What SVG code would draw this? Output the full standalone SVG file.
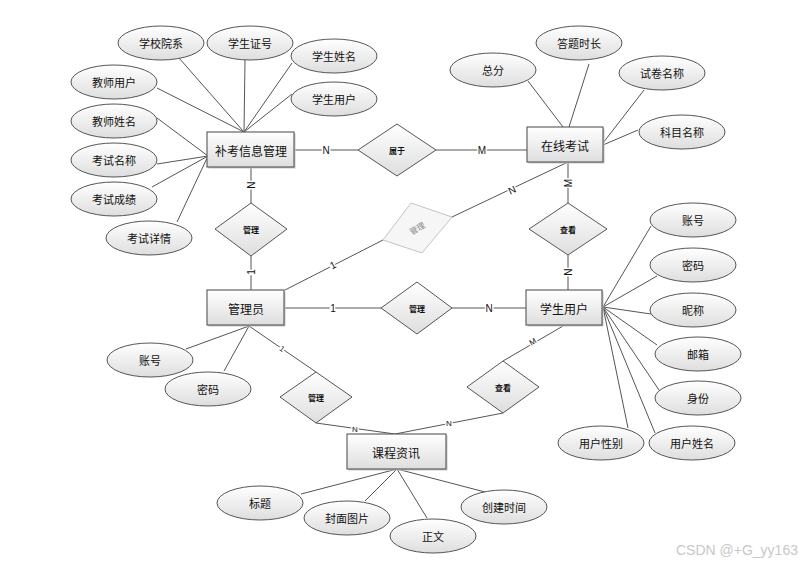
<svg xmlns="http://www.w3.org/2000/svg" width="810" height="566" viewBox="0 0 810 566">
<defs>
<linearGradient id="g" x1="0" y1="0" x2="0" y2="1">
<stop offset="0" stop-color="#ffffff"/>
<stop offset="1" stop-color="#dedede"/>
</linearGradient>
<style>
text{font-family:"Noto Sans CJK SC","Liberation Sans",sans-serif;text-anchor:middle;dominant-baseline:central;fill:#111}
.ent rect{fill:url(#g);stroke:#555;stroke-width:1.1}
.ent rect.shadow{fill:#c8c8c8;stroke:none}
.ent text{font-size:12px}
.att ellipse{fill:url(#g);stroke:#555;stroke-width:1}
.att text{font-size:11px}
.rel polygon{fill:url(#g);stroke:#555;stroke-width:1}
.rel text{font-size:8px;font-weight:bold}
#connectors line{stroke:#555;stroke-width:1}
.card{font-size:10px;font-family:"Liberation Sans",sans-serif;stroke:#fff;stroke-width:3;paint-order:stroke}
</style>
</defs>
<rect width="810" height="566" fill="#fff"/>

<g id="connectors">
<line x1="179" y1="58" x2="244" y2="132"/>
<line x1="245" y1="60" x2="244" y2="132"/>
<line x1="292" y1="63" x2="244" y2="132"/>
<line x1="292" y1="94" x2="244" y2="132"/>
<line x1="157" y1="88" x2="244" y2="132"/>
<line x1="157" y1="118" x2="208" y2="156"/>
<line x1="157" y1="164" x2="208" y2="156"/>
<line x1="152" y1="187" x2="208" y2="156"/>
<line x1="177" y1="222" x2="208" y2="156"/>
<line x1="528" y1="81" x2="563" y2="127"/>
<line x1="589" y1="64" x2="569" y2="127"/>
<line x1="644" y1="90" x2="603" y2="143"/>
<line x1="638" y1="130" x2="603" y2="145"/>
<line x1="186" y1="349" x2="249" y2="326"/>
<line x1="224" y1="371" x2="249" y2="326"/>
<line x1="651" y1="226" x2="603" y2="307"/>
<line x1="657" y1="276" x2="603" y2="307"/>
<line x1="651" y1="314" x2="603" y2="307"/>
<line x1="657" y1="345" x2="603" y2="307"/>
<line x1="659" y1="390" x2="603" y2="307"/>
<line x1="655" y1="433" x2="603" y2="307"/>
<line x1="628" y1="428" x2="603" y2="307"/>
<line x1="301" y1="494" x2="397" y2="469"/>
<line x1="365" y1="501" x2="397" y2="469"/>
<line x1="427" y1="518" x2="397" y2="469"/>
<line x1="485" y1="492" x2="397" y2="469"/>
<line x1="294" y1="150" x2="358" y2="150"/>
<line x1="436" y1="150" x2="527" y2="150"/>
<line x1="251" y1="167" x2="251" y2="203"/>
<line x1="251" y1="256" x2="251" y2="290"/>
<line x1="568" y1="162" x2="568" y2="203"/>
<line x1="568" y1="255" x2="568" y2="290"/>
<line x1="568" y1="162" x2="452" y2="217"/>
<line x1="383" y1="240" x2="285" y2="290"/>
<line x1="284" y1="308" x2="381" y2="308"/>
<line x1="452" y1="308" x2="526" y2="308"/>
<line x1="249" y1="326" x2="316" y2="372"/>
<line x1="316" y1="423" x2="395" y2="434"/>
<line x1="563" y1="326" x2="503" y2="361"/>
<line x1="503" y1="413" x2="395" y2="434"/>
<text class="card" x="326" y="150">N</text>
<text class="card" x="482" y="150">M</text>
<text class="card" x="251" y="185" transform="rotate(-90 251 185)">N</text>
<text class="card" x="251" y="272" transform="rotate(-90 251 272)">1</text>
<text class="card" x="568" y="183" transform="rotate(-90 568 183)">M</text>
<text class="card" x="568" y="272" transform="rotate(-90 568 272)">N</text>
<text class="card" x="512" y="190" transform="rotate(-25 512 190)">N</text>
<text class="card" x="333" y="265" transform="rotate(-27 333 265)">1</text>
<text class="card" x="333" y="308">1</text>
<text class="card" x="489" y="308">N</text>
<text class="card" x="282" y="349" transform="rotate(35 282 349)" style="font-size:8px">1</text>
<text class="card" x="355" y="429" style="font-size:8px">N</text>
<text class="card" x="533" y="342" transform="rotate(-30 533 342)" style="font-size:8px">M</text>
<text class="card" x="449" y="423" style="font-size:8px">N</text>
</g>

<g id="bukao" class="ent"><rect class="shadow" x="208.5" y="133.5" width="87" height="35"/><rect x="207" y="132" width="87" height="35"/><text x="251" y="150">补考信息管理</text></g>
<g id="zaixian" class="ent"><rect class="shadow" x="528.5" y="128.5" width="76" height="35"/><rect x="527" y="127" width="76" height="35"/><text x="565" y="145">在线考试</text></g>
<g id="guanliyuan" class="ent"><rect class="shadow" x="208.5" y="291.5" width="77" height="35"/><rect x="207" y="290" width="77" height="35"/><text x="246" y="308">管理员</text></g>
<g id="xuesheng" class="ent"><rect class="shadow" x="527.5" y="291.5" width="76" height="35"/><rect x="526" y="290" width="76" height="35"/><text x="564" y="308">学生用户</text></g>
<g id="kecheng" class="ent"><rect class="shadow" x="348.5" y="435.5" width="99" height="35"/><rect x="347" y="434" width="99" height="35"/><text x="396" y="452">课程资讯</text></g>

<g id="shuyu" class="rel"><polygon points="358,150 397,124 436,150 397,176"/><text x="397" y="150">属于</text></g>
<g id="guanli1" class="rel"><polygon points="215,229 251,203 287,229 251,256"/><text x="251" y="229">管理</text></g>
<g id="chakan1" class="rel"><polygon points="529,229 568,203 607,229 568,255"/><text x="568" y="229">查看</text></g>
<g id="guanli2" class="rel"><polygon points="381,308 417,282 452,308 417,334"/><text x="417" y="308">管理</text></g>
<g id="guanli3" class="rel"><polygon points="280,397 316,372 352,397 316,423"/><text x="316" y="397">管理</text></g>
<g id="chakan2" class="rel"><polygon points="467,387 503,361 539,387 503,413"/><text x="503" y="387">查看</text></g>
<g id="guanli4" class="rel"><polygon points="411,203 452,217 422,253 383,240" style="fill:#f6f6f6;stroke:#c4c4c4"/><text x="417" y="228" transform="rotate(-30 417 228)" style="fill:#888;font-weight:normal">管理</text></g>

<g id="a_xxyx" class="att"><ellipse cx="161" cy="43" rx="43" ry="17"/><text x="161" y="43">学校院系</text></g>
<g id="a_xszh" class="att"><ellipse cx="250" cy="43" rx="43" ry="17"/><text x="250" y="43">学生证号</text></g>
<g id="a_xsxm" class="att"><ellipse cx="334" cy="56" rx="43" ry="17"/><text x="334" y="56">学生姓名</text></g>
<g id="a_xsyh" class="att"><ellipse cx="334" cy="99" rx="43" ry="17"/><text x="334" y="99">学生用户</text></g>
<g id="a_jsyh" class="att"><ellipse cx="114" cy="82" rx="43" ry="17"/><text x="114" y="82">教师用户</text></g>
<g id="a_jsxm" class="att"><ellipse cx="114" cy="121" rx="43" ry="17"/><text x="114" y="121">教师姓名</text></g>
<g id="a_ksmc" class="att"><ellipse cx="114" cy="160" rx="43" ry="17"/><text x="114" y="160">考试名称</text></g>
<g id="a_kscj" class="att"><ellipse cx="114" cy="199" rx="43" ry="17"/><text x="114" y="199">考试成绩</text></g>
<g id="a_ksxq" class="att"><ellipse cx="149" cy="238" rx="43" ry="17"/><text x="149" y="238">考试详情</text></g>

<g id="a_zf" class="att"><ellipse cx="493" cy="70" rx="43" ry="17"/><text x="493" y="70">总分</text></g>
<g id="a_dtsc" class="att"><ellipse cx="579" cy="43" rx="43" ry="17"/><text x="579" y="43">答题时长</text></g>
<g id="a_sjmc" class="att"><ellipse cx="662" cy="73" rx="43" ry="17"/><text x="662" y="73">试卷名称</text></g>
<g id="a_kmmc" class="att"><ellipse cx="682" cy="132" rx="43" ry="17"/><text x="682" y="132">科目名称</text></g>

<g id="a_gly_zh" class="att"><ellipse cx="150" cy="360" rx="43" ry="17"/><text x="150" y="360">账号</text></g>
<g id="a_gly_mm" class="att"><ellipse cx="208" cy="389" rx="43" ry="17"/><text x="208" y="389">密码</text></g>

<g id="a_xs_zh" class="att"><ellipse cx="693" cy="220" rx="43" ry="17"/><text x="693" y="220">账号</text></g>
<g id="a_xs_mm" class="att"><ellipse cx="693" cy="265" rx="43" ry="17"/><text x="693" y="265">密码</text></g>
<g id="a_xs_nc" class="att"><ellipse cx="693" cy="310" rx="43" ry="17"/><text x="693" y="310">昵称</text></g>
<g id="a_xs_yx" class="att"><ellipse cx="698" cy="354" rx="43" ry="17"/><text x="698" y="354">邮箱</text></g>
<g id="a_xs_sf" class="att"><ellipse cx="698" cy="398" rx="43" ry="17"/><text x="698" y="398">身份</text></g>
<g id="a_xs_yhxm" class="att"><ellipse cx="692" cy="443" rx="43" ry="17"/><text x="692" y="443">用户姓名</text></g>
<g id="a_xs_yhxb" class="att"><ellipse cx="601" cy="443" rx="43" ry="17"/><text x="601" y="443">用户性别</text></g>

<g id="a_bt" class="att"><ellipse cx="260" cy="503" rx="43" ry="17"/><text x="260" y="503">标题</text></g>
<g id="a_fmtp" class="att"><ellipse cx="347" cy="518" rx="43" ry="17"/><text x="347" y="518">封面图片</text></g>
<g id="a_zw" class="att"><ellipse cx="433" cy="536" rx="43" ry="17"/><text x="433" y="536">正文</text></g>
<g id="a_cjsj" class="att"><ellipse cx="504" cy="507" rx="43" ry="17"/><text x="504" y="507">创建时间</text></g>

<text x="737" y="550" style="font-family:'Liberation Sans',sans-serif;font-size:14px;fill:#c8c8c8">CSDN @+G_yy163</text>
</svg>
